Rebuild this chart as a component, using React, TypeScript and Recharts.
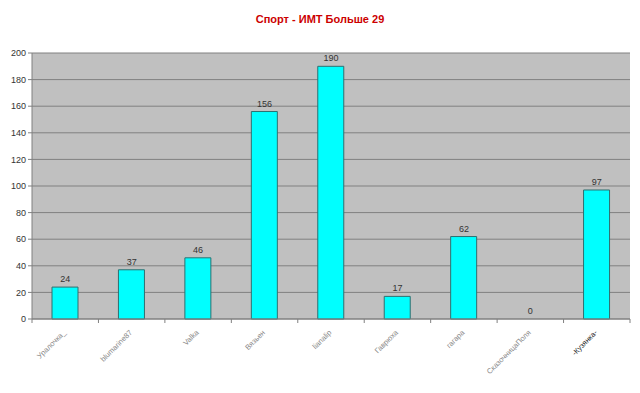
import { ComposedChart, Bar, Line, XAxis, YAxis, CartesianGrid, LabelList } from 'recharts';

const names = [
  'Уралочка_',
  'blumarine87',
  'Valka',
  'Вязьен',
  'lianalip',
  'Гаврюха',
  'гагара',
  'СказочницаПоля',
  '-Кузянка-',
];
const counts = [24, 37, 46, 156, 190, 17, 62, 0, 97];
const yTicks = [0, 20, 40, 60, 80, 100, 120, 140, 160, 180, 200];

const chartData = names.map((name, i) => ({ name, value: counts[i] }));

const FONT = '"Liberation Sans", Arial, sans-serif';

// Excel-style category tick: marks sit between the bars, label rotated 45deg
const CategoryTick = (props: any) => {
  const { x, y, payload, index } = props;
  const half = payload?.offset ?? 33;
  const isLast = index === names.length - 1;
  return (
    <g>
      <line x1={x - half} y1={y - 8} x2={x - half} y2={y - 4} stroke="#808080" />
      {isLast && <line x1={x + half} y1={y - 8} x2={x + half} y2={y - 4} stroke="#808080" />}
      <text
        x={x + 1}
        y={y + 6}
        textAnchor="end"
        fontSize={7.5}
        fontFamily={FONT}
        fill={isLast ? '#222' : '#888'}
        transform={`rotate(-45, ${x + 1}, ${y + 6})`}
      >
        {payload.value}
      </text>
    </g>
  );
};

export default function App() {
  return (
    <div style={{ position: 'absolute', left: 0, top: 0, width: 640, height: 393, background: '#fff' }}>
      <div
        style={{
          position: 'absolute',
          top: 13,
          width: 640,
          textAlign: 'center',
          color: '#CC0000',
          fontFamily: FONT,
          fontWeight: 'bold',
          fontSize: 11,
        }}
      >
        Спорт - ИМТ Больше 29
      </div>
      <ComposedChart
        width={640}
        height={393}
        data={chartData}
        margin={{ top: 53, right: 10, left: 2, bottom: 0 }}
      >
        <CartesianGrid fill="#C0C0C0" stroke="#808080" vertical={false} />
        <XAxis
          dataKey="name"
          height={74}
          interval={0}
          tickLine={false}
          axisLine={{ stroke: '#808080' }}
          tick={<CategoryTick />}
        />
        <YAxis
          width={30}
          domain={[0, 200]}
          ticks={yTicks}
          interval={0}
          tickSize={4}
          tickLine={{ stroke: '#808080' }}
          axisLine={{ stroke: '#808080' }}
          tick={{ fontSize: 9, fill: '#333', fontFamily: FONT }}
        />
        <YAxis
          yAxisId="frame"
          orientation="right"
          width={0}
          domain={[0, 200]}
          tick={false}
          tickLine={false}
          axisLine={{ stroke: '#808080' }}
        />
        <Bar dataKey="value" fill="#00FFFF" stroke="#2F6F6F" strokeWidth={1} barSize={26} isAnimationActive={false} />
        {/* invisible line carries the value labels so the zero bar gets one too */}
        <Line dataKey="value" stroke="none" dot={false} activeDot={false} isAnimationActive={false} legendType="none">
          <LabelList dataKey="value" position="top" offset={5} fontSize={9} fill="#333" fontFamily={FONT} />
        </Line>
      </ComposedChart>
    </div>
  );
}
